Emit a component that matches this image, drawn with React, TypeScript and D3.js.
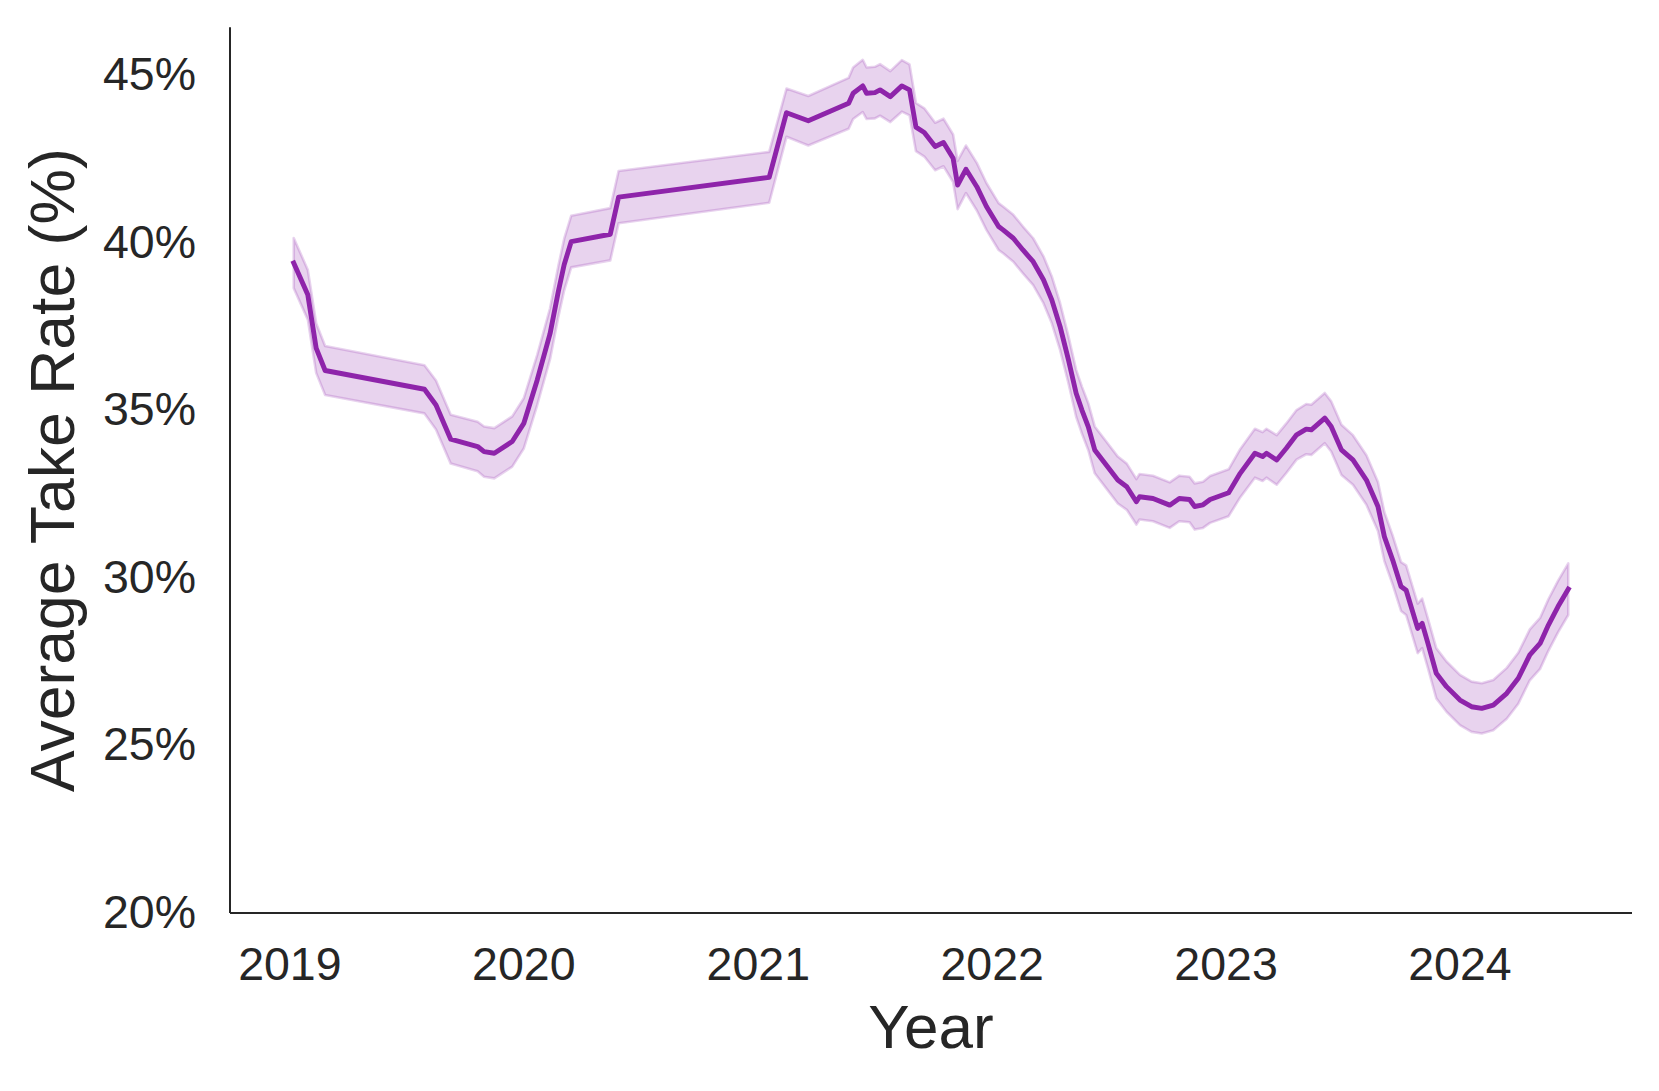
import React from "react";
import * as d3 from "d3";

// ── Data (rolling mean take rate, % and 95% CI half-width) ────
const DATES: string[] = [
  "2019-01-07", "2019-01-29", "2019-02-11", "2019-02-25", "2019-07-30", "2019-08-17",
  "2019-09-09", "2019-10-21", "2019-10-31", "2019-11-16", "2019-12-14", "2020-01-01",
  "2020-01-22", "2020-02-11", "2020-02-24", "2020-03-04", "2020-03-15", "2020-05-15",
  "2020-05-28", "2021-01-18", "2021-02-14", "2021-03-20", "2021-05-22", "2021-05-29",
  "2021-06-13", "2021-06-19", "2021-07-02", "2021-07-10", "2021-07-26", "2021-08-13",
  "2021-08-25", "2021-09-04", "2021-09-17", "2021-10-04", "2021-10-17", "2021-11-01",
  "2021-11-08", "2021-11-21", "2021-12-08", "2021-12-23", "2022-01-11", "2022-01-18",
  "2022-02-03", "2022-02-18", "2022-03-06", "2022-03-22", "2022-04-04", "2022-04-17",
  "2022-04-30", "2022-05-12", "2022-05-21", "2022-05-31", "2022-06-10", "2022-06-28",
  "2022-07-16", "2022-07-30", "2022-08-14", "2022-08-19", "2022-09-09", "2022-10-05",
  "2022-10-20", "2022-11-05", "2022-11-13", "2022-11-26", "2022-12-07", "2023-01-05",
  "2023-01-23", "2023-02-15", "2023-02-27", "2023-03-05", "2023-03-21", "2023-04-05",
  "2023-04-21", "2023-05-06", "2023-05-14", "2023-06-04", "2023-06-14", "2023-06-30",
  "2023-07-18", "2023-08-08", "2023-08-26", "2023-09-05", "2023-09-18", "2023-10-01",
  "2023-10-09", "2023-10-27", "2023-11-03", "2023-11-12", "2023-11-25", "2023-12-11",
  "2024-01-01", "2024-01-19", "2024-02-04", "2024-02-22", "2024-03-14", "2024-04-01",
  "2024-04-19", "2024-05-05", "2024-05-18", "2024-06-02", "2024-06-18",
];

const TAKE_RATE: number[] = [
  39.41, 38.46, 36.87, 36.2, 35.64, 35.17,
  34.15, 33.93, 33.78, 33.73, 34.08, 34.62,
  35.92, 37.3, 38.57, 39.36, 40.05, 40.27,
  41.38, 41.97, 43.9, 43.66, 44.18, 44.48,
  44.7, 44.48, 44.5, 44.58, 44.38, 44.7,
  44.58, 43.47, 43.31, 42.89, 43.01, 42.54,
  41.74, 42.21, 41.69, 41.1, 40.5, 40.4,
  40.15, 39.8, 39.45, 38.91, 38.31, 37.51,
  36.52, 35.52, 35.02, 34.52, 33.83, 33.38,
  32.93, 32.73, 32.28, 32.43, 32.38, 32.18,
  32.38, 32.35, 32.14, 32.19, 32.35, 32.55,
  33.13, 33.73, 33.63, 33.73, 33.53, 33.88,
  34.28, 34.45, 34.43, 34.78, 34.53, 33.83,
  33.53, 32.93, 32.14, 31.24, 30.54, 29.75,
  29.64, 28.5, 28.65, 28.05, 27.16, 26.76,
  26.36, 26.16, 26.11, 26.21, 26.56, 27.01,
  27.71, 28.05, 28.6, 29.15, 29.67,
];

const CI: number[] = [
  0.75, 0.74, 0.74, 0.73, 0.72, 0.73,
  0.73, 0.74, 0.75, 0.75, 0.75, 0.75,
  0.75, 0.76, 0.76, 0.77, 0.77, 0.78,
  0.78, 0.76, 0.72, 0.74, 0.76, 0.77,
  0.78, 0.77, 0.77, 0.77, 0.76, 0.77,
  0.76, 0.72, 0.72, 0.71, 0.71, 0.71,
  0.72, 0.71, 0.71, 0.7, 0.7, 0.7,
  0.7, 0.7, 0.7, 0.7, 0.7, 0.7,
  0.7, 0.7, 0.7, 0.7, 0.7, 0.7,
  0.7, 0.69, 0.68, 0.68, 0.68, 0.68,
  0.68, 0.68, 0.69, 0.69, 0.7, 0.7,
  0.72, 0.73, 0.73, 0.73, 0.74, 0.74,
  0.74, 0.75, 0.75, 0.75, 0.75, 0.75,
  0.74, 0.74, 0.73, 0.73, 0.73, 0.73,
  0.74, 0.74, 0.74, 0.74, 0.75, 0.75,
  0.75, 0.75, 0.75, 0.75, 0.76, 0.76,
  0.76, 0.76, 0.77, 0.77, 0.77,
];

const Y_TICKS: number[] = [20, 25, 30, 35, 40, 45];
const X_TICKS: number[] = [2019, 2020, 2021, 2022, 2023, 2024];

// ── Geometry ──────────────────────────────────────────────────
const W = 1659;
const H = 1091;
const M = { left: 230, right: 1632, top: 27.3, bottom: 913 };
const Y_DOMAIN: [number, number] = [20, 46.45];

const COLOR = "#8E24AA";
const INK = "#262626";
const FONT = "'Liberation Sans', Arial, Helvetica, sans-serif";

interface Row {
  date: Date;
  v: number;
  ci: number;
}

export default function App() {
  const parse = d3.timeParse("%Y-%m-%d");
  const rows: Row[] = DATES.map((d, i) => ({
    date: parse(d) as Date,
    v: TAKE_RATE[i],
    ci: CI[i],
  }));

  // matplotlib-style 5% margin on the date extent
  const [t0, t1] = d3.extent(rows, (r) => r.date.getTime()) as [number, number];
  const pad = (t1 - t0) * 0.05;
  const x = d3
    .scaleTime()
    .domain([new Date(t0 - pad), new Date(t1 + pad)])
    .range([M.left, M.right]);
  const y = d3.scaleLinear().domain(Y_DOMAIN).range([M.bottom, M.top]);

  const band = d3
    .area<Row>()
    .x((r) => x(r.date))
    .y0((r) => y(r.v - r.ci))
    .y1((r) => y(r.v + r.ci));
  const line = d3
    .line<Row>()
    .x((r) => x(r.date))
    .y((r) => y(r.v));

  return (
    <svg
      width={W}
      height={H}
      style={{ position: "absolute", left: 0, top: 0, background: "#fff" }}
      fontFamily={FONT}
    >
      <rect x={0} y={0} width={W} height={H} fill="#fff" />

      {/* confidence band */}
      <path
        d={band(rows) ?? ""}
        fill={COLOR}
        fillOpacity={0.2}
        stroke={COLOR}
        strokeOpacity={0.2}
        strokeWidth={2.6}
        strokeLinejoin="round"
      />

      {/* mean line */}
      <path
        d={line(rows) ?? ""}
        fill="none"
        stroke={COLOR}
        strokeWidth={4.9}
        strokeLinejoin="round"
        strokeLinecap="square"
      />

      {/* spines */}
      <line x1={M.left} x2={M.left} y1={M.top} y2={M.bottom} stroke={INK} strokeWidth={2} />
      <line x1={M.left} x2={M.right} y1={M.bottom} y2={M.bottom} stroke={INK} strokeWidth={2} />

      {/* y tick labels */}
      {Y_TICKS.map((t) => (
        <text
          key={t}
          x={196}
          y={y(t) + 14.5}
          textAnchor="end"
          fontSize={46.5}
          fill={INK}
        >
          {`${t}%`}
        </text>
      ))}

      {/* x tick labels */}
      {X_TICKS.map((yr) => (
        <text
          key={yr}
          x={x(new Date(yr, 0, 1))}
          y={980}
          textAnchor="middle"
          fontSize={46.5}
          fill={INK}
        >
          {yr}
        </text>
      ))}

      {/* axis titles */}
      <text
        x={(M.left + M.right) / 2}
        y={1048}
        textAnchor="middle"
        fontSize={62}
        fill={INK}
      >
        Year
      </text>
      <text
        transform={`translate(74, ${(M.top + M.bottom) / 2}) rotate(-90)`}
        textAnchor="middle"
        fontSize={62.5}
        fill={INK}
      >
        Average Take Rate (%)
      </text>
    </svg>
  );
}
